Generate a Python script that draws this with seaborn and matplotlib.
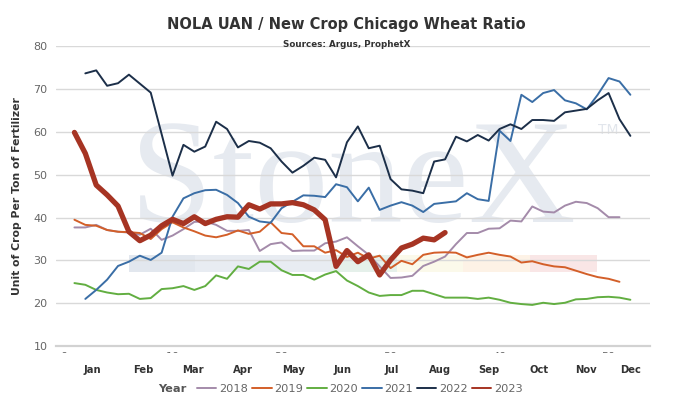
import numpy as np
import pandas as pd
import seaborn as sns
import matplotlib.pyplot as plt
from matplotlib import font_manager
from matplotlib.lines import Line2D
from matplotlib.patches import Rectangle
from matplotlib.transforms import Bbox, TransformedBbox

# weekly NOLA UAN / new crop Chicago wheat ratio
years = ["2018", "2019", "2020", "2021", "2022", "2023"]
first_week = {"2018": 1, "2019": 1, "2020": 1, "2021": 2, "2022": 2, "2023": 1}

r2018 = [37.7, 37.7, 38.3, 37.1, 36.7, 36.5, 36.0, 37.4, 34.8, 35.8,
         37.3, 39.0, 39.1, 38.3, 36.9, 36.9, 37.1, 32.2, 33.8, 34.2,
         32.2, 32.3, 32.3, 34.0, 34.4, 35.4, 33.3, 31.3, 28.6, 25.9,
         26.0, 26.4, 28.7, 29.7, 30.9, 33.8, 36.4, 36.4, 37.4, 37.5,
         39.3, 39.1, 42.6, 41.4, 41.2, 42.8, 43.7, 43.4, 42.2, 40.1,
         40.1]
r2019 = [39.5, 38.3, 38.1, 37.1, 36.7, 36.6, 36.4, 35.0, 37.3, 38.9,
         37.7, 36.8, 35.8, 35.4, 36.0, 37.0, 36.2, 36.7, 38.9, 36.4,
         36.1, 33.3, 33.3, 31.8, 32.4, 30.8, 31.8, 30.4, 31.1, 28.2,
         29.9, 29.1, 31.3, 31.8, 31.9, 31.8, 30.7, 31.3, 31.8, 31.3,
         30.9, 29.5, 29.8, 29.1, 28.6, 28.4, 27.6, 26.8, 26.1, 25.7,
         25.0]
r2020 = [24.7, 24.3, 23.1, 22.5, 22.1, 22.2, 21.0, 21.2, 23.3, 23.5,
         24.0, 23.1, 24.0, 26.5, 25.7, 28.6, 28.0, 29.7, 29.7, 27.7,
         26.6, 26.6, 25.5, 26.7, 27.5, 25.3, 24.0, 22.5, 21.7, 21.9,
         21.9, 22.9, 22.9, 22.1, 21.3, 21.3, 21.3, 21.0, 21.3, 20.8,
         20.1, 19.8, 19.6, 20.1, 19.8, 20.1, 20.9, 21.0, 21.4, 21.5,
         21.3, 20.8]
r2021 = [21.0, 23.1, 25.5, 28.7, 29.7, 31.1, 30.1, 31.8, 40.2, 44.5,
         45.7, 46.4, 46.5, 45.3, 43.4, 40.2, 39.1, 38.8, 42.2, 43.7,
         45.2, 45.1, 44.8, 47.8, 47.1, 43.8, 47.0, 41.8, 42.8, 43.6,
         42.8, 41.3, 43.2, 43.5, 43.8, 45.7, 44.3, 43.9, 60.3, 57.9,
         68.7, 67.0, 69.1, 69.8, 67.4, 66.7, 65.3, 68.7, 72.6, 71.8,
         68.7]
r2022 = [73.7, 74.4, 70.8, 71.4, 73.4, 71.3, 69.2, 59.5, 49.8, 57.0,
         55.4, 56.6, 62.4, 60.7, 56.4, 57.9, 57.5, 56.2, 53.1, 50.5,
         52.1, 54.0, 53.5, 49.4, 57.6, 61.3, 56.2, 56.8, 49.0, 46.6,
         46.3, 45.7, 53.1, 53.6, 58.9, 57.8, 59.3, 58.0, 60.7, 61.8,
         60.7, 62.8, 62.8, 62.6, 64.6, 65.0, 65.4, 67.4, 69.1, 63.0,
         59.1]
r2023 = [59.9, 55.0, 47.6, 45.3, 42.7, 36.7, 34.6, 35.9, 38.1, 39.6,
         38.6, 40.2, 38.6, 39.6, 40.2, 40.1, 43.0, 42.0, 43.2, 43.2,
         43.5, 43.0, 41.8, 39.5, 28.6, 32.3, 29.7, 31.3, 26.6, 30.1,
         32.9, 33.8, 35.2, 34.8, 36.5]
series = {"2018": r2018, "2019": r2019, "2020": r2020,
          "2021": r2021, "2022": r2022, "2023": r2023}

month_labels = ["Jan", "Feb", "Mar", "Apr", "May", "Jun",
                "Jul", "Aug", "Sep", "Oct", "Nov", "Dec"]
month_weeks = [2.6, 7.3, 11.9, 16.5, 21.1, 25.6, 30.1, 34.5, 39.0, 43.6, 47.9, 52.0]
week_ticks = [0, 10, 20, 30, 40, 50]

colors = {"2018": "#A48BAA", "2019": "#D35F29", "2020": "#62AE41",
          "2021": "#3A6EA6", "2022": "#1C2F49", "2023": "#A63423"}
widths = {"2018": 1.4, "2019": 1.4, "2020": 1.4, "2021": 1.4, "2022": 1.4, "2023": 3.8}

rows = []
for y in years:
    for i, v in enumerate(series[y]):
        rows.append({"Year": y, "week": first_week[y] + i, "ratio": v})
df = pd.DataFrame(rows)

sns.set_theme(style="white")
plt.rcParams["font.family"] = ["DejaVu Sans"]
installed = {f.name for f in font_manager.fontManager.ttflist}
title_font = "Liberation Sans Narrow" if "Liberation Sans Narrow" in installed else "DejaVu Sans"

fig = plt.figure(figsize=(6.75, 4.03), dpi=100)
ax = fig.add_axes([56 / 675, 57 / 403, 594 / 675, 299.6 / 403])

# watermark logo behind the data
ax.text(0.1246, 0.414, "StoneX", transform=ax.transAxes, family="Liberation Serif",
        fontsize=107, color="#E6EAF0", ha="left", va="baseline", zorder=0.1)
ax.text(0.93, 0.72, "TM", transform=ax.transAxes, fontsize=10, color="#E2E6EC",
        ha="center", va="center", zorder=0.1)
bands = [(0.123, 0.234, "#E2E7EE"), (0.234, 0.461, "#E8ECF2"), (0.461, 0.574, "#E5F0EA"),
         (0.574, 0.685, "#FBF9EA"), (0.685, 0.798, "#FDF2E6"), (0.798, 0.911, "#F9E6E6")]
for x0, x1, c in bands:
    ax.add_patch(Rectangle((x0, 0.247), x1 - x0, 0.057, transform=ax.transAxes,
                           color=c, lw=0, zorder=0.1))

sns.lineplot(data=df, x="week", y="ratio", hue="Year", size="Year",
             hue_order=years, palette=colors, sizes=widths, legend=False, ax=ax)
for ln in ax.lines:
    ln.set_solid_joinstyle("round")
    ln.set_solid_capstyle("round")

ax.set_xlim(-0.69, 53.8)
ax.set_ylim(10, 80)
ax.set_yticks(range(10, 81, 10))
ax.grid(axis="y", color="#D9D9D9", lw=1.0)
ax.set_axisbelow(True)
for s in ["top", "right", "left"]:
    ax.spines[s].set_visible(False)
ax.spines["bottom"].set_color("#D2D2D2")
ax.spines["bottom"].set_linewidth(1.6)
ax.tick_params(axis="y", length=0, pad=6, labelsize=8, labelcolor="#666666")

ax.set_xticks(month_weeks)
ax.set_xticklabels(month_labels, fontsize=7.2, fontweight="bold", color="#333333")
ax.set_xticks(week_ticks, minor=True)
ax.set_xticklabels([str(w) for w in week_ticks], minor=True, fontsize=8, color="#666666")
ax.tick_params(axis="x", which="major", length=0, pad=14)
ax.tick_params(axis="x", which="minor", length=0, pad=4)
# the week numbers are mostly hidden under the month row, as in the source
clip = TransformedBbox(Bbox.from_extents(0, 0.505, 6.75, 4.03), fig.dpi_scale_trans)
for lbl in ax.xaxis.get_minorticklabels():
    lbl.set_clip_box(clip)
    lbl.set_clip_on(True)

ax.set_xlabel("")
ax.set_ylabel("Unit of Crop Per Ton of Fertilizer", fontsize=7.8, fontweight="bold",
              color="#333333", labelpad=8)

fig.text(0.513, 0.938, "NOLA UAN / New Crop Chicago Wheat Ratio", ha="center", va="center",
         fontsize=10.5, fontweight="bold", color="#333333", family=title_font)
fig.text(0.513, 0.89, "Sources: Argus, ProphetX", ha="center", va="center",
         fontsize=6.3, fontweight="bold", color="#333333")

handles = [Line2D([], [], color=colors[y], lw=1.4) for y in years]
fig.legend(handles, years, ncol=6, loc="center", bbox_to_anchor=(360 / 675, 14 / 403),
           frameon=False, fontsize=8.2, labelcolor="#666666", handlelength=1.7,
           handletextpad=0.25, columnspacing=0.35)
fig.text(158 / 675, 14 / 403, "Year", ha="left", va="center", fontsize=8.2,
         fontweight="bold", color="#555555")

fig.savefig("out.png", dpi=100)
